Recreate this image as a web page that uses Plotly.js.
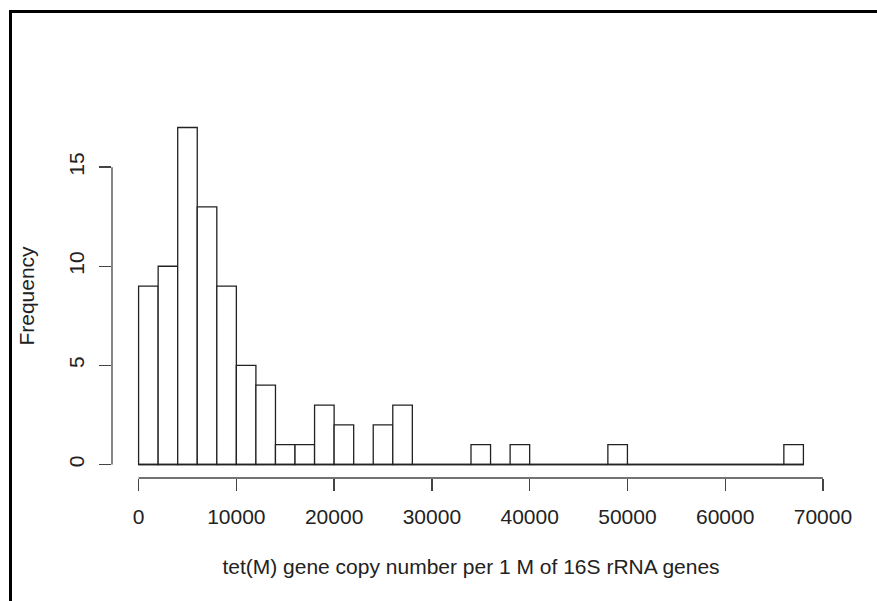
<!DOCTYPE html>
<html>
<head>
<meta charset="utf-8">
<script src="https://cdn.plot.ly/plotly-3.0.1.min.js"></script>
<style>
  html, body { margin: 0; padding: 0; background: #fff; }
  #wrap { position: relative; width: 877px; height: 601px; overflow: hidden; }
  #chart { position: absolute; left: 0; top: 0; width: 877px; height: 601px; }
  #frame { position: absolute; left: 9px; top: 10px; width: 900px; height: 700px;
           border-top: 3px solid #000; border-left: 3px solid #000; pointer-events: none; }
</style>
</head>
<body>
<div id="wrap">
  <div id="chart"></div>
  <div id="frame"></div>
</div>
<script>
// Histogram bin edges (breaks) and counts
const breaks = [0, 2000, 4000, 6000, 8000, 10000, 12000, 14000, 16000, 18000,
                20000, 22000, 24000, 26000, 28000, 30000, 32000, 34000, 36000, 38000,
                40000, 42000, 44000, 46000, 48000, 50000, 52000, 54000, 56000, 58000,
                60000, 62000, 64000, 66000, 68000];
const counts = [9, 10, 17, 13, 9, 5, 4, 1, 1, 3,
                2, 0, 2, 3, 0, 0, 0, 1, 0, 1,
                0, 0, 0, 0, 1, 0, 0, 0, 0, 0,
                0, 0, 0, 1];
const xTicks = [0, 10000, 20000, 30000, 40000, 50000, 60000, 70000];
const yTicks = [0, 5, 10, 15];
const xTitle = "tet(M) gene copy number per 1 M of 16S rRNA genes";
const yTitle = "Frequency";

const centers = counts.map((c, i) => (breaks[i] + breaks[i + 1]) / 2);
const widths = counts.map((c, i) => breaks[i + 1] - breaks[i]);

const txtColor = "#222";
const axColor = "#444";
const font = { family: "Liberation Sans, Arial, sans-serif", size: 21, color: txtColor };

const traces = [
  {
    type: "scatter", mode: "lines",
    x: [breaks[0], breaks[breaks.length - 1]], y: [0, 0],
    line: { color: "#222", width: 1.3 }, hoverinfo: "skip", showlegend: false
  },
  {
    type: "bar", x: centers, y: counts, width: widths,
    marker: { color: "#ffffff", line: { color: "#222", width: 1.3 } },
    showlegend: false
  }
];

const xMin = breaks[0] - 0.04 * (breaks[breaks.length - 1] - breaks[0]);
const xMax = breaks[breaks.length - 1] + 0.04 * (breaks[breaks.length - 1] - breaks[0]);
const yMaxC = Math.max(...counts);

const layout = {
  width: 877, height: 601,
  margin: { l: 112, r: 47, t: 114, b: 123 },
  paper_bgcolor: "#ffffff", plot_bgcolor: "#ffffff",
  font: font,
  bargap: 0,
  xaxis: {
    range: [xMin, xMax], tickvals: xTicks, ticktext: xTicks.map(String),
    ticks: "outside", ticklen: 12, tickwidth: 1.3, tickcolor: axColor,
    ticklabelstandoff: 8,
    showline: false, zeroline: false, showgrid: false,
    tickfont: font,
    title: { text: xTitle, font: font, standoff: 32 },
    automargin: false
  },
  yaxis: {
    range: [-0.04 * yMaxC, yMaxC * 1.04], tickvals: yTicks, ticktext: yTicks.map(String),
    ticks: "outside", ticklen: 12, tickwidth: 1.3, tickcolor: axColor,
    tickangle: -90, ticklabelstandoff: 7,
    showline: false, zeroline: false, showgrid: false,
    tickfont: font,
    title: { text: yTitle, font: font, standoff: 24 },
    automargin: false
  },
  shapes: [
    { type: "line", xref: "x", yref: "paper", x0: xTicks[0], x1: xTicks[xTicks.length - 1], y0: 0, y1: 0,
      line: { color: axColor, width: 1.3 } },
    { type: "line", xref: "paper", yref: "y", x0: 0, x1: 0, y0: yTicks[0], y1: yTicks[yTicks.length - 1],
      line: { color: axColor, width: 1.3 } }
  ]
};

Plotly.newPlot("chart", traces, layout, { staticPlot: true, displayModeBar: false });
</script>
</body>
</html>
